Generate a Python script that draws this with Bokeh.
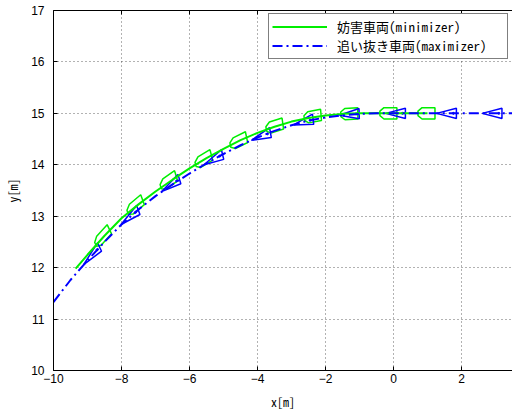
import numpy as np
from bokeh.plotting import figure
from bokeh.models import Range1d, LinearAxis, FixedTicker, Legend, LegendItem
from bokeh.embed import file_html
from bokeh.resources import INLINE

# ---- data ----
green_x = [-9.35, -9.0, -8.5, -8.0, -7.5, -7.0, -6.5, -6.0, -5.5, -5.0, -4.5, -4.0,
           -3.5, -3.0, -2.5, -2.0, -1.5, -1.0, 0.0, 1.0]
green_y = [11.98, 12.25, 12.62, 12.96, 13.23, 13.48, 13.71, 13.93, 14.13, 14.31, 14.48, 14.62,
           14.74, 14.84, 14.91, 14.96, 14.99, 15.0, 15.0, 15.0]

blue_x = [-10.0, -9.5, -9.0, -8.5, -8.0, -7.5, -7.0, -6.5, -6.0, -5.5, -5.0, -4.5, -4.0,
          -3.5, -3.0, -2.5, -2.0, -1.5, -1.0, -0.5, 0.0, 3.6]
blue_y = [11.33, 11.76, 12.14, 12.5, 12.84, 13.13, 13.39, 13.62, 13.83, 14.03, 14.21, 14.38, 14.53,
          14.66, 14.77, 14.86, 14.92, 14.96, 14.99, 15.0, 15.0, 15.0]

# vehicle poses: x, y, heading (deg)
gveh_x = [-8.56, -7.6, -6.62, -5.59, -4.56, -3.5, -2.38, -1.3, -0.15, 0.97]
gveh_y = [12.6, 13.2, 13.68, 14.1, 14.46, 14.75, 14.94, 14.99, 15.0, 15.0]
gveh_h = [36, 29, 25, 22, 18, 12, 7, 2, 0, 0]

bveh_x = [-8.88, -7.76, -6.56, -5.3, -3.9, -2.65, -1.3, 0.06, 1.56, 2.9]
bveh_y = [12.23, 12.98, 13.6, 14.1, 14.55, 14.83, 14.98, 15.0, 15.0, 15.0]
bveh_h = [36, 29, 25, 20, 15, 11, 3, 0, 0, 0]

x_ticks = [-10, -8, -6, -4, -2, 0, 2]
x_tick_labels = ["\u221210", "\u22128", "\u22126", "\u22124", "\u22122", "0", "2"]
y_ticks = [10, 11, 12, 13, 14, 15, 16, 17]

legend_labels = ["妨害車両(minimizer)", "追い抜き車両(maximizer)"]

# ---- vehicle outlines (body frame) ----
GL, GW, GC = 0.5, 0.22, 0.12
green_body = [(-GL/2, -GW*0.2), (-GL/2+GC, -GW/2), (GL/2, -GW/2), (GL/2, GW/2),
              (-GL/2+GC, GW/2), (-GL/2, GW*0.2)]
BL, BW = 0.58, 0.2
blue_body = [(-BL/2, 0.0), (BL/2, -BW/2), (BL/2, BW/2)]


def place(body, xs, ys, hs):
    out_x, out_y = [], []
    for x, y, h in zip(xs, ys, hs):
        a = np.deg2rad(h)
        c, s = np.cos(a), np.sin(a)
        out_x.append([x + bx * c - by * s for bx, by in body])
        out_y.append([y + bx * s + by * c for bx, by in body])
    return out_x, out_y


GREEN = "#00ee00"
BLUE = "#0000ff"
MONO = "Noto Sans Mono CJK JP"

p = figure(width=512, height=412, output_backend="svg", toolbar_location=None,
           x_range=Range1d(-10, 3.5), y_range=Range1d(10, 17),
           min_border_left=53, min_border_right=0, min_border_top=10, min_border_bottom=42)
p.outline_line_color = None
p.background_fill_color = "white"

# axes
p.xaxis.ticker = FixedTicker(ticks=x_ticks)
p.xaxis.major_label_overrides = {t: l for t, l in zip(x_ticks, x_tick_labels)}
p.yaxis.ticker = FixedTicker(ticks=y_ticks)
for ax in (p.xaxis[0], p.yaxis[0]):
    ax.axis_line_color = "black"
    ax.axis_line_width = 1
    ax.major_tick_in = 4
    ax.major_tick_out = 0
    ax.minor_tick_line_color = None
    ax.major_label_text_font = "Liberation Sans"
    ax.major_label_text_font_size = "12px"
    ax.major_label_text_color = "black"
    ax.axis_label_text_font = MONO
    ax.axis_label_text_font_size = "12px"
    ax.axis_label_text_font_style = "normal"
    ax.axis_label_text_color = "black"
p.xaxis.axis_label = "x[m]"
p.yaxis.axis_label = "y[m]"
p.xaxis.major_label_standoff = 3
p.xaxis.axis_label_standoff = 7
p.yaxis.major_label_standoff = 9
p.yaxis.axis_label_standoff = 7

top = LinearAxis(ticker=FixedTicker(ticks=x_ticks), major_tick_in=4, major_tick_out=0,
                 minor_tick_line_color=None, major_label_text_color=None,
                 major_label_standoff=0, axis_line_color="black")
p.add_layout(top, "above")

# grid
p.xgrid.ticker = FixedTicker(ticks=x_ticks)
p.ygrid.ticker = FixedTicker(ticks=y_ticks)
for g in (p.xgrid[0], p.ygrid[0]):
    g.grid_line_color = "#222222"
    g.grid_line_alpha = 0.7
    g.grid_line_dash = "1 3"
    g.grid_line_width = 1

# vehicles
gx, gy = place(green_body, gveh_x, gveh_y, gveh_h)
p.patches(gx, gy, fill_color=None, line_color=GREEN, line_width=1.5)
bx, by = place(blue_body, bveh_x, bveh_y, bveh_h)
p.patches(bx, by, fill_color=None, line_color=BLUE, line_width=1.5)
dot_x = [x + 0.2 * np.cos(np.deg2rad(h)) for x, h in zip(bveh_x, bveh_h)]
dot_y = [y + 0.2 * np.sin(np.deg2rad(h)) for y, h in zip(bveh_y, bveh_h)]
p.scatter(dot_x, dot_y, size=2, color=BLUE)

# paths
g_line = p.line(green_x, green_y, line_color=GREEN, line_width=2)
b_line = p.line(blue_x, blue_y, line_color=BLUE, line_width=2, line_dash="10 4 2 4")

legend = Legend(items=[LegendItem(label=legend_labels[0], renderers=[g_line]),
                       LegendItem(label=legend_labels[1], renderers=[b_line])],
                location=(215, 311), border_line_color="black", border_line_width=1,
                background_fill_color="white", background_fill_alpha=1.0,
                padding=3, spacing=0, margin=0, glyph_width=55, glyph_height=15,
                label_height=15, label_width=167, label_standoff=10,
                label_text_font=MONO, label_text_font_size="13px", label_text_color="black")
p.add_layout(legend)

open("out.html", "w").write(file_html(p, INLINE))
